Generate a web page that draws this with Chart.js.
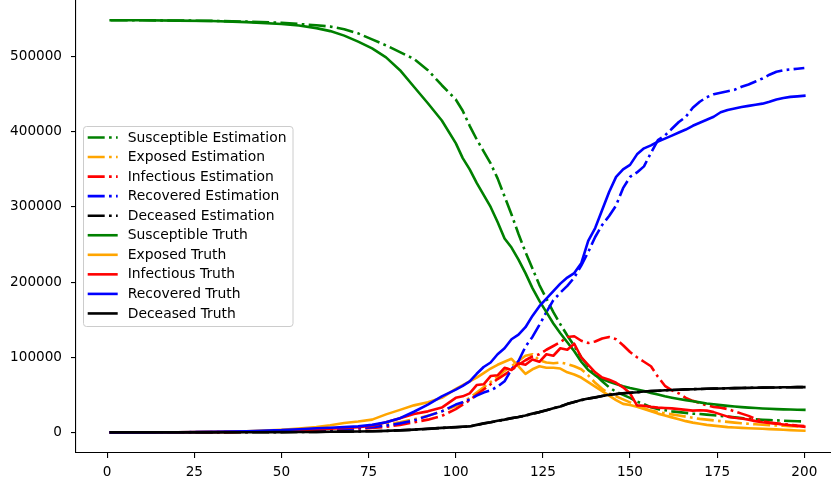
<!DOCTYPE html>
<html><head><meta charset="utf-8">
<script src="https://cdn.jsdelivr.net/npm/chart.js@4/dist/chart.umd.min.js"></script>
<style>html,body{margin:0;padding:0;background:#fff;overflow:hidden}
#wrap{width:831px;height:487px;overflow:hidden;position:relative;background:#fff}
canvas{display:block}</style></head>
<body><div id="wrap"><canvas id="c" width="839" height="487"></canvas></div>
<script>
const days = [1,10,20,30,40,50,55,60,64,68,72,76,80,84,88,92,96,
  100,102,104,106,108,110,112,114,116,118,120,122,124,126,128,130,132,134,136,138,140,
  142,144,146,148,150,152,154,156,158,160,162,164,166,168,170,172,174,176,178,180,
  182,184,186,188,190,192,194,196,198,200];
const xTicks = [0,25,50,75,100,125,150,175,200];
const yTicks = [0,100000,200000,300000,400000,500000];

const susceptibleEst = [548500,548400,548100,547600,546600,545000,543500,
  541800,540000,536500,531000,523000,515000,506000,497000,482000,462000,
  443000,428000,408000,390000,374000,358000,338000,314000,290000,264000,240000,218000,196000,178000,160000,144000,129000,115000,100000,88000,77000,
  68000,60000,54000,50000,46000,41000,37500,33500,31000,29500,28000,27000,26000,25000,24500,23700,22800,22000,21000,20000,
  19000,18000,17300,16800,16400,16000,15600,15200,14900,14600];
const exposedEst = [0,50,150,400,900,1800,2500,
  3300,4200,5300,6500,8000,10500,13500,17500,22000,28000,
  35000,40000,46000,53000,60000,67000,74000,82000,88000,95000,102000,104000,96000,93000,92000,93000,91000,88000,84000,76000,66000,
  58000,52000,48000,44000,40000,36000,32000,29000,27000,25500,24000,22500,21000,19500,18000,17000,16000,15000,14000,13000,
  12200,11500,10800,10200,9700,9200,8800,8400,8000,7700];
const infectiousEst = [0,50,150,300,700,1500,2200,
  3000,3600,4300,5000,5800,7500,10000,13500,17000,22000,
  31000,37000,43000,50000,57000,64000,71000,77000,83000,90000,96000,101000,104000,110000,115000,120000,127000,128000,122000,119000,121000,
  125000,127000,124000,116000,107000,100000,94000,88000,74000,62000,56000,52000,46000,42000,39000,36000,34000,33000,31000,28000,
  25000,22000,18000,15000,13000,12000,11000,10000,9000,8500];
const recoveredEst = [0,100,200,500,1000,2000,2600,
  3200,3800,4600,5600,7000,9000,12000,16000,22000,28000,
  37000,40000,44000,49000,53000,56000,61000,68000,84000,95000,114000,127000,143000,160000,176000,186000,195000,206000,222000,240000,260000,
  276000,288000,302000,325000,340000,346000,354000,372000,389000,395000,404000,413000,420000,432000,440000,446000,450000,452000,454000,456000,
  460000,463000,467000,471000,476000,480000,482000,483000,484000,485000];
const deceasedEst = [0,0,0,100,200,400,500,
  700,900,1100,1300,1600,2000,2700,3600,4700,5900,
  6900,7500,8100,9800,11800,13400,15300,17000,18800,20500,22400,24800,27000,29400,32000,34600,37800,40500,42900,45000,46600,
  48400,49900,51000,52000,52800,53600,54400,55000,55500,56000,56400,56800,57200,57500,57800,58000,58300,58500,58700,58900,
  59100,59300,59400,59600,59700,59800,60000,60100,60200,60300];
const susceptibleTruth = [548500,548400,548000,547400,546000,543500,541500,
  538000,534000,528000,520000,511000,499000,482000,460000,438000,415000,
  385000,365000,350000,332000,316000,300000,280000,258000,246000,230000,212000,192000,175000,160000,145000,132000,120000,108000,94000,83000,76000,
  71000,67500,64500,61500,59000,57000,55000,52500,50500,48000,46200,44500,43000,41500,40000,38500,37500,36300,35300,34400,
  33600,33000,32400,31900,31400,31000,30700,30400,30200,30000];
const exposedTruth = [0,100,300,700,1500,3500,5000,
  7000,9500,12500,14500,17000,24000,30000,36000,40000,46000,
  58000,63000,68000,73000,79000,85000,90000,94000,98000,88000,78000,84000,88000,86000,86000,85000,80000,77000,73000,67000,61000,
  55000,49000,43000,38000,36500,34000,31000,28000,25000,22500,20000,17500,15000,13000,11500,10000,9000,8000,7000,6500,
  6000,5600,5200,4800,4400,4000,3500,3000,2600,2200];
const infectiousTruth = [0,50,150,350,800,2000,3000,
  4000,5000,6000,7000,9000,13500,19000,24500,28000,33000,
  46000,48000,52000,63000,64000,75000,76000,86000,83000,92000,90000,97000,94000,104000,102000,112000,110000,118000,100000,90000,80000,
  73000,70000,66000,60000,52000,36000,35500,34000,33000,32500,32000,31000,30000,29000,29500,29000,27000,24000,21000,19500,
  18500,17000,15000,13500,12500,11500,10500,9500,8500,7500];
const recoveredTruth = [0,100,300,700,1500,3000,4300,
  5500,6300,7000,8000,10000,13500,19000,27500,37000,48000,
  57000,62000,68000,78000,87000,93000,104000,112000,124000,130000,140000,155000,168000,178000,188000,198000,206000,212000,225000,255000,272000,
  296000,320000,340000,350000,356000,370000,378000,382000,387000,391000,395000,399000,403000,408000,412000,416000,420000,426000,429000,431000,
  433000,434500,436000,437500,440000,443000,445000,446500,447200,448000];
const deceasedTruth = [0,0,0,100,200,400,500,
  700,900,1100,1300,1600,2000,2800,3700,4800,6000,
  7000,7500,8000,10000,12000,13500,15500,17000,19000,20500,22500,25000,27000,29500,32000,34500,38000,40500,43000,45000,46500,
  48500,50000,51000,52000,52800,53500,54500,55000,55500,56000,56500,56800,57200,57500,57800,58000,58300,58500,58700,58900,
  59100,59300,59400,59600,59700,59800,60000,60100,60200,60300];

const seriesLabels = ['Susceptible Estimation','Exposed Estimation','Infectious Estimation','Recovered Estimation','Deceased Estimation',
  'Susceptible Truth','Exposed Truth','Infectious Truth','Recovered Truth','Deceased Truth'];
const seriesValues = [susceptibleEst,exposedEst,infectiousEst,recoveredEst,deceasedEst,
  susceptibleTruth,exposedTruth,infectiousTruth,recoveredTruth,deceasedTruth];
const colors = ['#008000','#FFA500','#FF0000','#0000FF','#000000'];
const DASH = [17,4.3,2.7,4.3];
const FONT = '"DejaVu Sans", sans-serif';

const datasets = seriesValues.map((vals,i)=>({
  label: seriesLabels[i],
  data: vals.map((v,k)=>({x:days[k], y:v})),
  borderColor: colors[i%5],
  backgroundColor: colors[i%5],
  borderWidth: 2.6,
  borderDash: i<5 ? DASH : [],
  borderCapStyle: i<5 ? 'butt' : 'square',
  borderJoinStyle: 'round',
  pointRadius: 0,
  fill: false,
  tension: 0,
  order: 20 - i
}));

const mplLegend = {
  id: 'mplLegend',
  afterDraw(chart){
    const ctx = chart.ctx;
    const x0 = 83.5, y0 = 126.5, w = 209.5, h = 200, r = 3;
    ctx.save();
    ctx.beginPath();
    ctx.moveTo(x0+r,y0); ctx.lineTo(x0+w-r,y0); ctx.arcTo(x0+w,y0,x0+w,y0+r,r);
    ctx.lineTo(x0+w,y0+h-r); ctx.arcTo(x0+w,y0+h,x0+w-r,y0+h,r);
    ctx.lineTo(x0+r,y0+h); ctx.arcTo(x0,y0+h,x0,y0+h-r,r);
    ctx.lineTo(x0,y0+r); ctx.arcTo(x0,y0,x0+r,y0,r); ctx.closePath();
    ctx.fillStyle = 'rgba(255,255,255,0.8)'; ctx.fill();
    ctx.strokeStyle = '#cccccc'; ctx.lineWidth = 1; ctx.stroke();
    chart.data.datasets.forEach((ds,i)=>{
      const cy = 137.5 + i*19.55;
      ctx.setLineDash(ds.borderDash || []);
      ctx.lineCap = 'butt';
      ctx.strokeStyle = ds.borderColor; ctx.lineWidth = ds.borderWidth;
      ctx.beginPath(); ctx.moveTo(87.7,cy); ctx.lineTo(117.7,cy); ctx.stroke();
      ctx.setLineDash([]);
      ctx.fillStyle = '#000'; ctx.font = '13.9px ' + FONT; ctx.textBaseline = 'middle'; ctx.textAlign='left';
      ctx.fillText(ds.label, 127.7, cy + 0.5);
    });
    ctx.restore();
  }
};

const bgPlugin = {
  id:'bg',
  beforeDraw(chart){ const c=chart.ctx; c.save(); c.fillStyle='#fff'; c.fillRect(0,0,chart.width,chart.height); c.restore(); }
};

new Chart(document.getElementById('c'), {
  type: 'line',
  data: { datasets },
  options: {
    responsive: false,
    animation: false,
    devicePixelRatio: 1,
    layout: { padding: 0 },
    plugins: { legend: { display: false }, tooltip: { enabled: false } },
    scales: {
      x: {
        type: 'linear', min: -8.95, max: 209.95,
        afterBuildTicks: s => { s.ticks = xTicks.map(v=>({value:v})); },
        afterFit: s => { s.height = 34; s.paddingLeft = 0; s.paddingRight = 0; },
        grid: { display: true, drawOnChartArea: false, drawTicks: true, tickLength: 5, color: '#000', lineWidth: 1.1 },
        border: { display: true, color: '#000', width: 1.1 },
        ticks: { color: '#000', font: { family: FONT, size: 13.6 }, padding: 6, maxRotation: 0, autoSkip: false, callback: v => String(v) }
      },
      y: {
        type: 'linear', min: -27400, max: 575400,
        afterBuildTicks: s => { s.ticks = yTicks.map(v=>({value:v})); },
        afterFit: s => { s.width = 76; s.paddingTop = 0; s.paddingBottom = 0; },
        grid: { display: true, drawOnChartArea: false, drawTicks: true, tickLength: 5, color: '#000', lineWidth: 1.1 },
        border: { display: true, color: '#000', width: 1.1 },
        ticks: { color: '#000', font: { family: FONT, size: 13.6 }, padding: 9, autoSkip: false, callback: v => String(v) }
      }
    }
  },
  plugins: [bgPlugin, mplLegend]
});
</script>
</body></html>
